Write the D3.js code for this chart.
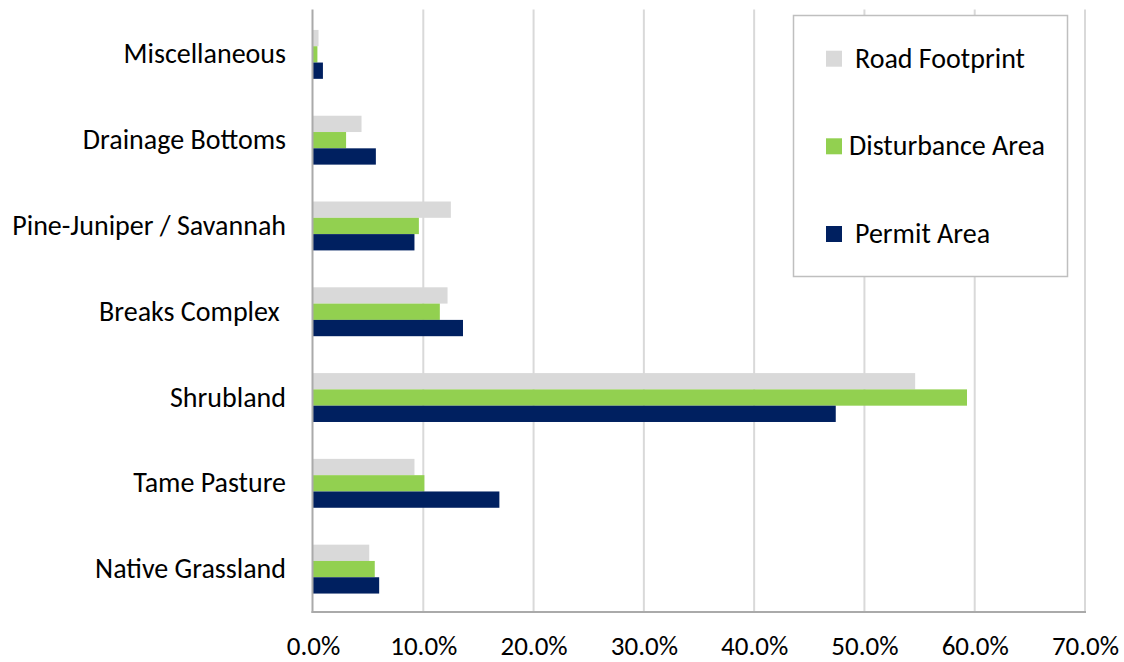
<!DOCTYPE html>
<html>
<head>
<meta charset="utf-8">
<script src="https://cdn.jsdelivr.net/npm/d3@7"></script>
<style>
  html, body { margin: 0; padding: 0; background: #ffffff; }
  svg text { font-family: Carlito, Calibri, Lato, sans-serif; fill: #000; }
</style>
</head>
<body>
<svg id="chart" width="1124" height="662"></svg>
<script>
// Land cover classes, listed top to bottom
const categories = [
  "Miscellaneous",
  "Drainage Bottoms",
  "Pine-Juniper / Savannah",
  "Breaks Complex ",
  "Shrubland",
  "Tame Pasture",
  "Native Grassland"
];

const seriesNames = ["Road Footprint", "Disturbance Area", "Permit Area"];

// Share of each area falling in each class (percent)
const roadFootprint    = [0.5, 4.4, 12.5, 12.2, 54.6,  9.2, 5.1];
const disturbanceArea  = [0.4, 3.0,  9.6, 11.5, 59.3, 10.1, 5.6];
const permitArea       = [0.9, 5.7,  9.2, 13.6, 47.4, 16.9, 6.0];

const tickValues = [0, 10, 20, 30, 40, 50, 60, 70];

const colors = ["#d9d9d9", "#92d050", "#002060"];
const seriesValues = [roadFootprint, disturbanceArea, permitArea];

const svg = d3.select("#chart");

const plot = { left: 313, right: 1085, top: 11.5, bottom: 612 };

const x = d3.scaleLinear().domain([0, 70]).range([plot.left, plot.right]);
const y = d3.scaleBand().domain(categories).range([plot.top, plot.bottom]).paddingInner(0.43).paddingOuter(0.215);
const ySub = d3.scaleBand().domain(seriesNames).range([0, y.bandwidth()]);

// Vertical gridlines
svg.append("g")
  .selectAll("line")
  .data(tickValues.slice(1))
  .join("line")
  .attr("x1", d => x(d)).attr("x2", d => x(d))
  .attr("y1", plot.top - 2).attr("y2", plot.bottom)
  .attr("stroke", "#d9d9d9")
  .attr("stroke-width", 2);

// Bars
const rows = categories.map((c, i) => ({
  category: c,
  values: seriesNames.map((s, j) => ({ series: s, value: seriesValues[j][i], color: colors[j] }))
}));

const groups = svg.append("g")
  .selectAll("g")
  .data(rows)
  .join("g")
  .attr("transform", d => `translate(0,${y(d.category)})`);

groups.selectAll("rect")
  .data(d => d.values)
  .join("rect")
  .attr("x", x(0))
  .attr("y", d => ySub(d.series))
  .attr("width", d => x(d.value) - x(0))
  .attr("height", ySub.bandwidth())
  .attr("fill", d => d.color);

// Axis lines
svg.append("line")
  .attr("x1", plot.left - 0.5).attr("x2", plot.left - 0.5)
  .attr("y1", plot.top - 2).attr("y2", plot.bottom + 1)
  .attr("stroke", "#aaaaaa").attr("stroke-width", 2);
svg.append("line")
  .attr("x1", plot.left - 1.5).attr("x2", x(70) + 1)
  .attr("y1", plot.bottom).attr("y2", plot.bottom)
  .attr("stroke", "#aaaaaa").attr("stroke-width", 2);

// Category labels
const yAxis = d3.axisLeft(y).tickSize(0).tickPadding(0);
const yG = svg.append("g").attr("transform", `translate(${plot.left - 27},0)`).call(yAxis);
yG.select(".domain").remove();
yG.selectAll("text")
  .attr("font-size", 28)
  .attr("dy", "0.32em")
  .style("white-space", "pre")
  .attr("fill", "#000");

// Value axis labels
const xAxis = d3.axisBottom(x).tickValues(tickValues).tickFormat(d => d.toFixed(1) + "%").tickSize(0).tickPadding(0);
const xG = svg.append("g").attr("transform", `translate(0,${plot.bottom})`).call(xAxis);
xG.select(".domain").remove();
xG.selectAll("text")
  .attr("font-size", 27)
  .attr("y", 43)
  .attr("dy", 0)
  .attr("fill", "#000");

// Legend
const legend = svg.append("g");
legend.append("rect")
  .attr("x", 793.5).attr("y", 15.5)
  .attr("width", 274).attr("height", 261)
  .attr("fill", "#ffffff")
  .attr("stroke", "#bfbfbf").attr("stroke-width", 1.5);

const legendRows = [
  { name: seriesNames[0], color: colors[0], top: 50.7, textX: 855 },
  { name: seriesNames[1], color: colors[1], top: 138.3, textX: 849 },
  { name: seriesNames[2], color: colors[2], top: 226, textX: 855 }
];
const li = legend.selectAll("g.item").data(legendRows).join("g").attr("class", "item");
li.append("rect")
  .attr("x", 826).attr("y", d => d.top)
  .attr("width", 16).attr("height", 16)
  .attr("fill", d => d.color);
li.append("text")
  .attr("x", d => d.textX)
  .attr("y", d => d.top + 17)
  .attr("font-size", 28)
  .text(d => d.name);
</script>
</body>
</html>
